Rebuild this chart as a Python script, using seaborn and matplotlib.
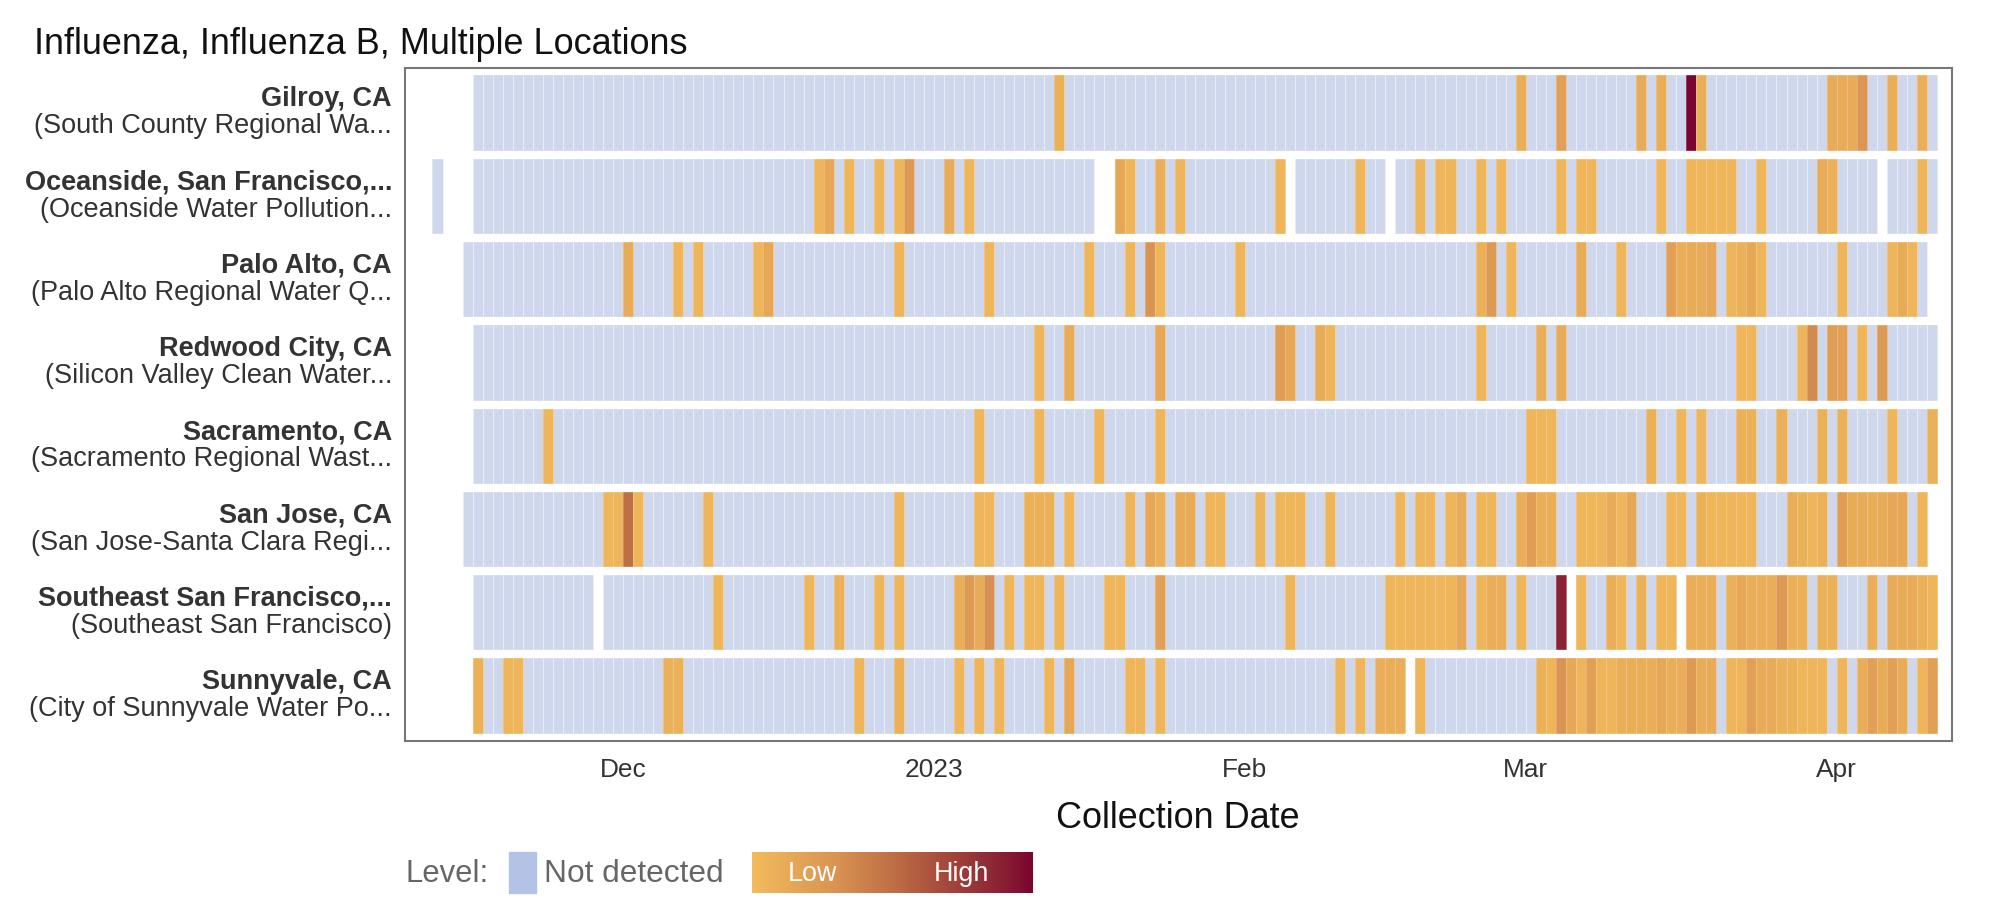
import numpy as np
import pandas as pd
import seaborn as sns
import matplotlib.pyplot as plt
from matplotlib.colors import ListedColormap, LinearSegmentedColormap
from matplotlib.patches import Rectangle
from matplotlib.transforms import blended_transform_factory

# ---- data --------------------------------------------------------------
# day 0 = 2022-11-16, one cell per collection day
day0 = pd.Timestamp("2022-11-16")

sites = ["Gilroy, CA", "Oceanside, San Francisco,...", "Palo Alto, CA", "Redwood City, CA",
         "Sacramento, CA", "San Jose, CA", "Southeast San Francisco,...", "Sunnyvale, CA"]
plants = ["(South County Regional Wa...", "(Oceanside Water Pollution...",
          "(Palo Alto Regional Water Q...", "(Silicon Valley Clean Water...",
          "(Sacramento Regional Wast...", "(San Jose-Santa Clara Regi...",
          "(Southeast San Francisco)", "(City of Sunnyvale Water Po..."]

first_day = [0, -4, -1, 0, 0, -1, 0, 0]
last_day = [145, 145, 144, 145, 145, 144, 145, 145]
no_sample = [[], [-3, -2, -1, 62, 63, 81, 91, 140], [], [], [], [], [12, 109, 120], [93]]

# detected days -> level (0 = low, 1 = high)
gilroy = {58: 0.08, 104: 0.1, 108: 0.2, 116: 0.12, 118: 0.1, 121: 1.0, 122: 0.1,
          135: 0.12, 136: 0.12, 137: 0.12, 138: 0.28, 141: 0.1, 144: 0.1}
oceanside = {34: 0.05, 35: 0.15, 37: 0.05, 40: 0.05, 42: 0.05, 43: 0.25, 47: 0.12, 49: 0.05,
             64: 0.15, 65: 0.05, 68: 0.1, 70: 0.05, 80: 0.05, 88: 0.05, 94: 0.05, 96: 0.05,
             97: 0.05, 100: 0.05, 102: 0.05, 108: 0.05, 110: 0.05, 111: 0.05, 118: 0.05,
             121: 0.05, 122: 0.05, 123: 0.05, 124: 0.05, 125: 0.05, 128: 0.05, 134: 0.12,
             135: 0.08, 144: 0.05}
palo_alto = {15: 0.12, 20: 0.05, 22: 0.05, 28: 0.05, 29: 0.15, 42: 0.05, 51: 0.05, 61: 0.05,
             65: 0.05, 67: 0.3, 68: 0.05, 76: 0.05, 100: 0.08, 101: 0.25, 103: 0.05, 110: 0.12,
             114: 0.05, 119: 0.2, 120: 0.1, 121: 0.12, 122: 0.12, 123: 0.15, 125: 0.05,
             126: 0.08, 127: 0.15, 128: 0.05, 136: 0.05, 141: 0.05, 142: 0.12, 143: 0.05}
redwood = {56: 0.05, 59: 0.12, 68: 0.15, 80: 0.22, 81: 0.15, 84: 0.12, 85: 0.05, 100: 0.05,
           106: 0.1, 108: 0.12, 126: 0.05, 127: 0.05, 132: 0.05, 133: 0.35, 135: 0.22,
           136: 0.2, 138: 0.05, 140: 0.25}
sacramento = {7: 0.05, 50: 0.05, 56: 0.05, 62: 0.05, 68: 0.05, 105: 0.05, 106: 0.05, 107: 0.05,
              117: 0.08, 120: 0.05, 122: 0.05, 126: 0.08, 127: 0.08, 130: 0.08, 134: 0.08,
              136: 0.08, 141: 0.05, 145: 0.08}
san_jose = {13: 0.05, 14: 0.05, 15: 0.5, 16: 0.05, 23: 0.05, 42: 0.05, 50: 0.05, 51: 0.05,
            55: 0.08, 56: 0.08, 57: 0.08, 59: 0.05, 65: 0.05, 67: 0.15, 68: 0.08, 70: 0.12,
            71: 0.12, 73: 0.05, 74: 0.05, 78: 0.05, 80: 0.05, 81: 0.05, 82: 0.05, 85: 0.05,
            92: 0.05, 94: 0.05, 95: 0.05, 97: 0.05, 98: 0.12, 100: 0.05, 101: 0.05, 104: 0.1,
            105: 0.22, 106: 0.1, 107: 0.1, 110: 0.05, 111: 0.05, 112: 0.05, 113: 0.12,
            114: 0.05, 115: 0.15, 119: 0.05, 120: 0.05, 122: 0.08, 123: 0.05, 124: 0.05,
            125: 0.05, 126: 0.05, 127: 0.05, 131: 0.1, 132: 0.08, 133: 0.05, 134: 0.08,
            136: 0.22, 137: 0.12, 138: 0.12, 139: 0.1, 140: 0.12, 141: 0.15, 142: 0.15,
            144: 0.05}
southeast_sf = {24: 0.05, 33: 0.05, 36: 0.08, 40: 0.05, 42: 0.05, 48: 0.1, 49: 0.25, 50: 0.12,
                51: 0.32, 53: 0.05, 55: 0.05, 56: 0.05, 58: 0.05, 63: 0.05, 64: 0.05, 68: 0.2,
                81: 0.05, 91: 0.05, 92: 0.05, 93: 0.05, 94: 0.05, 95: 0.05, 96: 0.05, 97: 0.05,
                98: 0.15, 100: 0.05, 101: 0.1, 102: 0.1, 104: 0.05, 108: 0.88, 110: 0.05,
                113: 0.1, 114: 0.05, 116: 0.08, 118: 0.05, 119: 0.05, 121: 0.1, 122: 0.1,
                123: 0.1, 125: 0.08, 126: 0.15, 127: 0.1, 128: 0.1, 129: 0.1, 130: 0.25,
                131: 0.08, 132: 0.08, 134: 0.08, 135: 0.08, 139: 0.1, 141: 0.12, 142: 0.12,
                143: 0.12, 144: 0.08, 145: 0.05}
sunnyvale = {0: 0.08, 3: 0.05, 4: 0.05, 19: 0.08, 20: 0.08, 38: 0.05, 42: 0.08, 48: 0.05,
             50: 0.05, 52: 0.05, 57: 0.05, 59: 0.15, 65: 0.05, 66: 0.05, 68: 0.05, 86: 0.05,
             88: 0.05, 90: 0.1, 91: 0.1, 92: 0.1, 94: 0.05, 106: 0.08, 107: 0.05, 108: 0.3,
             109: 0.15, 110: 0.05, 111: 0.2, 112: 0.05, 113: 0.05, 114: 0.1, 115: 0.1,
             116: 0.1, 117: 0.1, 118: 0.15, 119: 0.1, 120: 0.1, 121: 0.25, 122: 0.12,
             123: 0.12, 125: 0.05, 126: 0.05, 127: 0.2, 128: 0.12, 129: 0.12, 130: 0.08,
             131: 0.08, 132: 0.05, 133: 0.05, 134: 0.05, 136: 0.05, 138: 0.1, 139: 0.2,
             140: 0.12, 141: 0.2, 142: 0.12, 144: 0.05, 145: 0.2}
detections = [gilroy, oceanside, palo_alto, redwood, sacramento, san_jose, southeast_sf, sunnyvale]

tick_dates = ["2022-12-01", "2023-01-01", "2023-02-01", "2023-03-01", "2023-04-01"]
tick_labels = ["Dec", "2023", "Feb", "Mar", "Apr"]

# ---- build grids ---------------------------------------------------------
lo, hi = min(first_day), max(last_day)
days = list(range(lo, hi + 1))
cols = [(day0 + pd.Timedelta(days=d)).strftime("%Y-%m-%d") for d in days]
nd = pd.DataFrame(np.nan, index=sites, columns=cols)
det = pd.DataFrame(np.nan, index=sites, columns=cols)
for i, s in enumerate(sites):
    for d in range(first_day[i], last_day[i] + 1):
        if d in no_sample[i]:
            continue
        c = d - lo
        if d in detections[i]:
            det.iloc[i, c] = detections[i][d]
        else:
            nd.iloc[i, c] = 1.0

level_cmap = LinearSegmentedColormap.from_list(
    "level", [(0.0, "#f2bb5c"), (0.3, "#d99352"), (0.5, "#bf6f45"),
              (0.88, "#8b2333"), (1.0, "#7a0530")])

sns.set_theme(style="white")
plt.rcParams["font.family"] = ["Liberation Sans", "DejaVu Sans"]

fig = plt.figure(figsize=(20, 8.99), dpi=100)
ax = fig.add_axes([405 / 2000, 1 - 741 / 899, 1547 / 2000, 673 / 899])

sep = (1, 1, 1, 0.22)
sns.heatmap(nd, cmap=ListedColormap(["#cfd7ec"]), vmin=0, vmax=1, cbar=False,
            linewidths=0.45, linecolor=sep, ax=ax)
sns.heatmap(det, cmap=level_cmap, vmin=0, vmax=1, cbar=False,
            linewidths=0.45, linecolor=sep, ax=ax)

# white gaps between rows
ax.hlines(range(len(sites) + 1), -10, len(days) + 10, color="white", linewidth=6.0, zorder=3)

ax.set_xlim(-2.74, len(days) + 1.5)
ax.set_ylim(len(sites) + 0.04, -0.04)

pos = [(pd.Timestamp(t) - day0).days - lo for t in tick_dates]
ax.set_xticks(pos)
ax.set_xticklabels(tick_labels, rotation=0, fontsize=18.9, color="#333333")
ax.set_yticks([])
ax.set_xlabel("")
ax.set_ylabel("")
ax.tick_params(axis="x", length=0, pad=12)
for sp in ax.spines.values():
    sp.set_visible(True)
    sp.set_color("#777777")
    sp.set_linewidth(1.5)
    sp.set_zorder(5)

trans = blended_transform_factory(ax.transAxes, ax.transData)
for i in range(len(sites)):
    ax.text(-0.0084, i + 0.5 - 0.168, sites[i], transform=trans, ha="right", va="center",
            fontsize=19.5, fontweight="bold", color="#333333")
    ax.text(-0.0084, i + 0.5 + 0.16, plants[i], transform=trans, ha="right", va="center",
            fontsize=19.5, color="#333333")

fig.text(34 / 2000, 1 - 45 / 899, "Influenza, Influenza B, Multiple Locations",
         fontsize=25.9, va="center", ha="left", color="#111111")
fig.text(1178 / 2000, 1 - 819 / 899, "Collection Date", fontsize=25.9,
         va="center", ha="center", color="#111111")

# legend
ly = 1 - 874 / 899
fig.text(405 / 2000, ly, "Level:", fontsize=22.3, va="center", ha="left", color="#666666")
fig.add_artist(Rectangle((509 / 2000, 1 - 893 / 899), 27 / 2000, 41 / 899,
                         transform=fig.transFigure, color="#b3c3e5"))
fig.text(544 / 2000, ly, "Not detected", fontsize=22.8, va="center", ha="left", color="#666666")
lax = fig.add_axes([752 / 2000, 1 - 893 / 899, 281 / 2000, 41 / 899])
lax.imshow(np.linspace(0, 1, 256)[None, :], aspect="auto", cmap=level_cmap)
lax.axis("off")
fig.text(812 / 2000, ly, "Low", fontsize=19.4, va="center", ha="center", color="white")
fig.text(961 / 2000, ly, "High", fontsize=19.4, va="center", ha="center", color="white")

fig.savefig("out.png", dpi=100)
